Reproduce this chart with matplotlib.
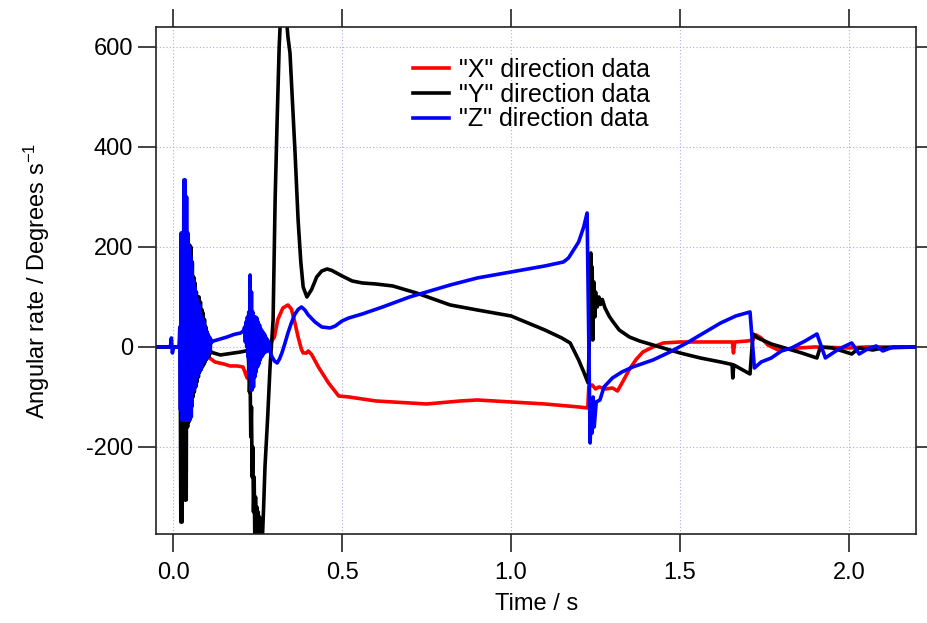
import numpy as np
import matplotlib
matplotlib.use("Agg")
import matplotlib.pyplot as plt

plt.rcParams['font.family'] = ['Liberation Sans', 'DejaVu Sans']
plt.rcParams['mathtext.fontset'] = 'custom'
plt.rcParams['mathtext.rm'] = 'Liberation Sans'
plt.rcParams['mathtext.it'] = 'Liberation Sans:italic'

# ---------------- data ----------------
# X direction (red)
x_t = [-0.05, 0.0, 0.02, 0.04, 0.06, 0.08, 0.10, 0.104, 0.124, 0.15, 0.169, 0.19, 0.207,
       0.219, 0.225, 0.24, 0.26, 0.28, 0.29, 0.30, 0.31, 0.325, 0.34, 0.35, 0.36, 0.37,
       0.38, 0.385, 0.395, 0.40, 0.41, 0.43, 0.46, 0.49, 0.52, 0.6, 0.7, 0.75, 0.85, 0.9,
       1.0, 1.1, 1.2, 1.227, 1.23, 1.24, 1.25, 1.26, 1.28, 1.30, 1.315, 1.33, 1.35, 1.37,
       1.39, 1.42, 1.45, 1.5, 1.6, 1.655, 1.658, 1.662, 1.7, 1.715, 1.725, 1.74, 1.76,
       1.79, 1.85, 1.9, 2.0, 2.05, 2.2]
x_v = [0, 0, 0, -10, -20, -20, -20, -20, -30, -34, -38, -38, -40,
       -62, -40, -20, -10, 0, 10, 20, 55, 78, 84, 76, 50, 20,
       -5, -12, -12, -8, -15, -40, -72, -98, -100, -108, -112, -114, -108, -106,
       -110, -114, -120, -122, -80, -76, -84, -80, -84, -82, -88, -70, -45, -25,
       -10, 0, 8, 10, 10, 10, -12, 10, 12, 14, 24, 18, 4,
       -6, -2, 0, -2, 0, 0]

# Y direction (black): quiet start, first burst, quiet, deep dip, remainder
y_t_pre = [-0.05, 0.0, 0.015, 0.019]
y_v_pre = [0, 0, 0, 0]
y_v_burst1 = [30, -350, 60, -350, 100, -200, 130, -306, 160, -306, 190, -160,
              204, -150, 204, -130, 200, -120, 170, -100, 140, -90, 128, -80,
              110, -70, 100, -60, 100, -50, 90, -45, 75, -40, 68, -35,
              55, -30, 40, -25, 30, -20, 15, -18, 5, -12]
y_t_quiet = [0.113, 0.12, 0.14, 0.16, 0.18, 0.2, 0.215]
y_v_quiet = [-10, -12, -16, -14, -12, -10, -8]
y_v_dip = [-6, -40, -90, -60, -180, -120, -260, -200, -330, -260, -385,
           -300, -390, -320, -390, -330, -385, -340, -390, -350, -380]
y_t_post = [0.265, 0.268, 0.272, 0.28, 0.287, 0.296, 0.302, 0.308, 0.314,
            0.318, 0.335, 0.340, 0.346, 0.361, 0.370, 0.378, 0.385, 0.396, 0.41, 0.425,
            0.44, 0.456, 0.47, 0.5, 0.53, 0.56, 0.6, 0.65, 0.72, 0.82, 0.9, 1.0, 1.1,
            1.15, 1.175, 1.2, 1.215, 1.228, 1.232, 1.236, 1.238, 1.240, 1.242, 1.245,
            1.248, 1.25, 1.255, 1.26, 1.265, 1.27, 1.278, 1.29, 1.30, 1.32, 1.35, 1.38,
            1.42, 1.50, 1.56, 1.62, 1.654, 1.656, 1.659, 1.707, 1.716, 1.73, 1.77, 1.81,
            1.86, 1.905, 1.915, 1.95, 1.98, 2.008, 2.03, 2.07, 2.1, 2.2]
y_v_post = [-372, -320, -240, -140, -40, 54, 294, 454, 600,
            660, 660, 620, 588, 388, 254, 170, 120, 100, 115, 140,
            152, 156, 153, 142, 132, 128, 126, 122, 108, 84, 74, 62, 34,
            18, 8, -26, -50, -72, 20, 188, 30, 160, 14, 130,
            60, 110, 80, 100, 85, 95, 78, 62, 52, 34, 20, 12,
            4, -12, -22, -30, -35, -62, -36, -54, 26, 18, 6, -2,
            -12, -22, 0, -2, -8, -14, -2, -6, -2, 0]

# Z direction (blue)
z_t_pre = [-0.05, -0.008, -0.005, -0.002, 0.002, 0.018]
z_v_pre = [0, 0, 18, -12, 0, 0]
z_v_burst1 = [40, -126, 228, -146, 228, -146, 334, -146, 334, -146, 300, -146,
              228, -146, 200, -146, 180, -140, 160, -86, 134, -86, 120, -80,
              105, -60, 95, -55, 85, -50, 70, -46, 62, -40, 55, -30,
              48, -28, 40, -24, 30, -20, 25, -12, 20, -5, 15]
z_t_mid = [0.115, 0.12, 0.14, 0.16, 0.18, 0.20, 0.208]
z_v_mid = [10, 12, 16, 20, 25, 28, 32]
z_v_burst2 = [40, 10, 50, 0, 60, -20, 70, -60, 144, -86, 110, -86, 70, -80,
              60, -60, 60, -50, 58, -40, 50, -34, 44, -26, 36, -20, 32, -16,
              28, -12, 24, -10, 18, -8, 14, -6, 8]
z_t_post = [0.287, 0.293, 0.300, 0.308, 0.315, 0.322, 0.33, 0.34, 0.35, 0.36, 0.37,
            0.38, 0.39, 0.40, 0.42, 0.44, 0.465, 0.48, 0.50, 0.52, 0.56, 0.62, 0.7,
            0.82, 0.9, 1.0, 1.1, 1.155, 1.17, 1.185, 1.2, 1.215, 1.225, 1.234, 1.238,
            1.240, 1.243, 1.246, 1.252, 1.263, 1.275, 1.30, 1.328, 1.36, 1.42, 1.47,
            1.52, 1.57, 1.62, 1.665, 1.707, 1.72, 1.74, 1.77, 1.80, 1.83, 1.87, 1.905,
            1.93, 1.97, 2.008, 2.03, 2.055, 2.08, 2.10, 2.13, 2.2]
z_v_post = [-10, -20, -28, -32, -24, -12, 5, 28, 48, 65, 75,
            80, 74, 64, 50, 40, 38, 42, 52, 58, 66, 80, 100,
            124, 138, 150, 162, 170, 178, 194, 210, 240, 268, -192, -106,
            -172, -100, -160, -110, -106, -80, -62, -50, -40, -26, -10,
            8, 28, 48, 62, 70, -42, -30, -22, -8, -2, 12, 26,
            -22, -4, 8, -14, -4, 2, -8, 0, 0]

x_ticks = [0.0, 0.5, 1.0, 1.5, 2.0]
x_ticklabels = ["0.0", "0.5", "1.0", "1.5", "2.0"]
y_ticks = [-200, 0, 200, 400, 600]
y_ticklabels = ["-200", "0", "200", "400", "600"]

# burst sample times (uniform sampling within bursts)
y_t_burst1 = np.linspace(0.021, 0.111, len(y_v_burst1))
y_t_dip = np.linspace(0.222, 0.262, len(y_v_dip))
z_t_burst1 = np.linspace(0.020, 0.112, len(z_v_burst1))
z_t_burst2 = np.linspace(0.212, 0.284, len(z_v_burst2))

y_t = np.concatenate([y_t_pre, y_t_burst1, y_t_quiet, y_t_dip, y_t_post])
y_v = np.concatenate([y_v_pre, y_v_burst1, y_v_quiet, y_v_dip, y_v_post])
z_t = np.concatenate([z_t_pre, z_t_burst1, z_t_mid, z_t_burst2, z_t_post])
z_v = np.concatenate([z_v_pre, z_v_burst1, z_v_mid, z_v_burst2, z_v_post])

# ---------------- plot ----------------
fig = plt.figure(figsize=(9.27, 6.23), dpi=100)
ax = fig.add_axes([0.1688, 0.1421, 0.8193, 0.8138])

lw = 2.6
ax.plot(x_t, x_v, color='#ff0000', lw=lw, label='"X" direction data', solid_joinstyle='round')
ax.plot(y_t, y_v, color='#000000', lw=lw, label='"Y" direction data', solid_joinstyle='round')
ax.plot(z_t, z_v, color='#0000ff', lw=lw, label='"Z" direction data', solid_joinstyle='round')

ax.set_xlim(-0.049, 2.198)
ax.set_ylim(-375, 639)
ax.set_xticks(x_ticks)
ax.set_xticklabels(x_ticklabels)
ax.set_yticks(y_ticks)
ax.set_yticklabels(y_ticklabels)

ax.grid(True, color='#a8a8ff', linestyle=(0, (1, 2)), linewidth=0.8)
ax.set_axisbelow(True)

for s in ax.spines.values():
    s.set_linewidth(1.2)
    s.set_color('#222222')

ax.tick_params(axis='both', which='major', direction='out', length=13, width=1.2,
               labelsize=17, top=True, right=True, labeltop=False, labelright=False,
               color='#222222')
ax.tick_params(axis='x', pad=7)
ax.tick_params(axis='y', pad=4)

ax.set_xlabel('Time / s', fontsize=17)
ax.set_ylabel('Angular rate / Degrees s$^{-1}$', fontsize=17)
ax.xaxis.set_label_coords(0.5, -0.115)
ax.yaxis.set_label_coords(-0.138, 0.5)

leg = ax.legend(loc='upper left', bbox_to_anchor=(0.3377, 0.94), frameon=False,
                fontsize=18, handlelength=1.45, handletextpad=0.4, labelspacing=0.03,
                borderpad=0, borderaxespad=0)

fig.savefig('out.png', dpi=100)
